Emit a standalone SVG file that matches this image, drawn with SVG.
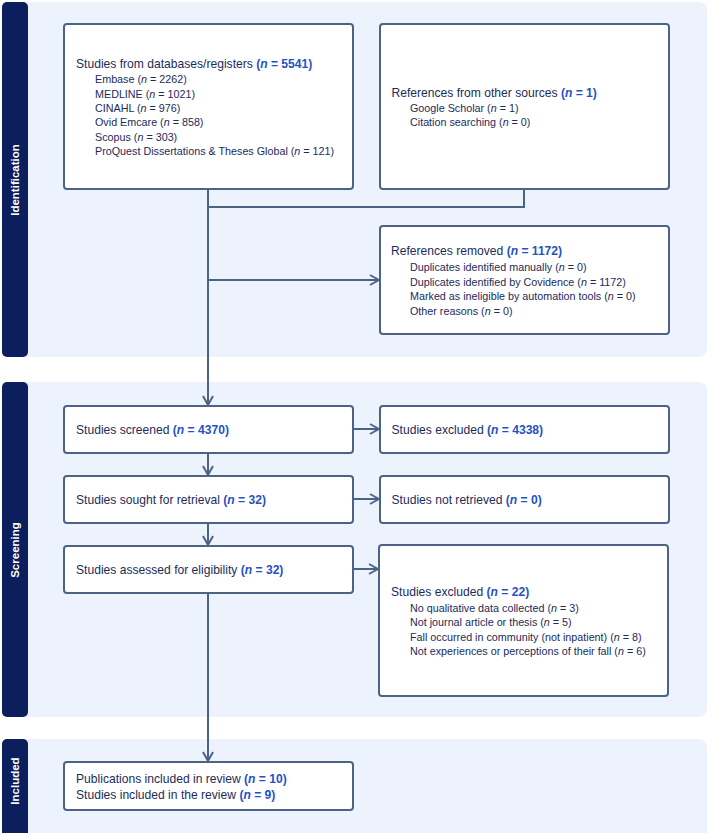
<svg xmlns="http://www.w3.org/2000/svg" width="709" height="833" viewBox="0 0 709 833">
<style>
.band{fill:#edf3fc}
.side{fill:#0b1f5e}
.lbl{font-family:"Liberation Sans",Arial,sans-serif;font-weight:bold;font-size:11.5px;fill:#ffffff;text-anchor:middle}
.box{fill:#ffffff;stroke:#4d6386;stroke-width:2}
.t{font-family:"Liberation Sans",Arial,sans-serif;font-size:12.1px;fill:#1c2b5a}
.s{font-family:"Liberation Sans",Arial,sans-serif;font-size:10.75px;fill:#1c2b5a}
.n{font-weight:bold;fill:#2452c4}
.c{fill:none;stroke:#4d6386;stroke-width:2}
</style>
<defs>
<marker id="ah" viewBox="0 0 12 12" refX="11" refY="6" markerWidth="12" markerHeight="12" markerUnits="userSpaceOnUse" orient="auto">
<path d="M2,1 L11,6 L2,11" fill="none" stroke="#4d6386" stroke-width="2"/>
</marker>
</defs>
<g id="bands">
<rect class="band" x="20" y="2" width="687" height="355" rx="8"/>
<rect class="side" x="2" y="2" width="26" height="355" rx="5"/>
<rect class="band" x="20" y="382" width="687" height="335" rx="8"/>
<rect class="side" x="2" y="382" width="26" height="335" rx="5"/>
<rect class="band" x="20" y="739" width="687" height="100" rx="8"/>
<rect class="side" x="2" y="739" width="26" height="100" rx="5"/>
<text class="lbl" transform="translate(19,180) rotate(-90)">Identification</text>
<text class="lbl" transform="translate(19,550) rotate(-90)">Screening</text>
<text class="lbl" transform="translate(19,781) rotate(-90)">Included</text>
</g>
<g id="connectors">
<polyline class="c" points="208,189 208,207 524,207 524,189"/>
<line class="c" x1="208" y1="207" x2="208" y2="405" marker-end="url(#ah)"/>
<line class="c" x1="208" y1="280" x2="379" y2="280" marker-end="url(#ah)"/>
<line class="c" x1="353" y1="429" x2="379" y2="429" marker-end="url(#ah)"/>
<line class="c" x1="208" y1="453" x2="208" y2="475" marker-end="url(#ah)"/>
<line class="c" x1="353" y1="499" x2="379" y2="499" marker-end="url(#ah)"/>
<line class="c" x1="208" y1="523" x2="208" y2="545" marker-end="url(#ah)"/>
<line class="c" x1="353" y1="569" x2="378" y2="569" marker-end="url(#ah)"/>
<line class="c" x1="208" y1="593" x2="208" y2="761" marker-end="url(#ah)"/>
</g>
<g id="databases">
<rect class="box" x="64" y="24" width="289" height="165" rx="3"/>
<text class="t" x="76" y="67.5">Studies from databases/registers <tspan class="n">(<tspan font-style="italic">n</tspan> = 5541)</tspan></text>
<text class="s" x="95" y="83">Embase (<tspan font-style="italic">n</tspan> = 2262)</text>
<text class="s" x="95" y="97.5">MEDLINE (<tspan font-style="italic">n</tspan> = 1021)</text>
<text class="s" x="95" y="112">CINAHL (<tspan font-style="italic">n</tspan> = 976)</text>
<text class="s" x="95" y="126.3">Ovid Emcare (<tspan font-style="italic">n</tspan> = 858)</text>
<text class="s" x="95" y="140.7">Scopus (<tspan font-style="italic">n</tspan> = 303)</text>
<text class="s" x="95" y="155">ProQuest Dissertations &amp; Theses Global (<tspan font-style="italic">n</tspan> = 121)</text>
</g>
<g id="other">
<rect class="box" x="380" y="24" width="289" height="165" rx="3"/>
<text class="t" x="391.5" y="97">References from other sources <tspan class="n">(<tspan font-style="italic">n</tspan> = 1)</tspan></text>
<text class="s" x="410" y="112.3">Google Scholar (<tspan font-style="italic">n</tspan> = 1)</text>
<text class="s" x="410" y="126.3">Citation searching (<tspan font-style="italic">n</tspan> = 0)</text>
</g>
<g id="removed">
<rect class="box" x="380" y="226" width="289" height="108" rx="3"/>
<text class="t" x="391" y="255">References removed <tspan class="n">(<tspan font-style="italic">n</tspan> = 1172)</tspan></text>
<text class="s" x="410" y="271">Duplicates identified manually (<tspan font-style="italic">n</tspan> = 0)</text>
<text class="s" x="410" y="285.5">Duplicates identified by Covidence (<tspan font-style="italic">n</tspan> = 1172)</text>
<text class="s" x="410" y="300">Marked as ineligible by automation tools (<tspan font-style="italic">n</tspan> = 0)</text>
<text class="s" x="410" y="314.5">Other reasons (<tspan font-style="italic">n</tspan> = 0)</text>
</g>
<g id="screened">
<rect class="box" x="64" y="406" width="289" height="47" rx="3"/>
<text class="t" x="76" y="434">Studies screened <tspan class="n">(<tspan font-style="italic">n</tspan> = 4370)</tspan></text>
</g>
<g id="excluded1">
<rect class="box" x="380" y="406" width="289" height="47" rx="3"/>
<text class="t" x="391.5" y="434">Studies excluded <tspan class="n">(<tspan font-style="italic">n</tspan> = 4338)</tspan></text>
</g>
<g id="sought">
<rect class="box" x="64" y="476" width="289" height="47" rx="3"/>
<text class="t" x="76" y="503.5">Studies sought for retrieval <tspan class="n">(<tspan font-style="italic">n</tspan> = 32)</tspan></text>
</g>
<g id="notretrieved">
<rect class="box" x="380" y="476" width="289" height="47" rx="3"/>
<text class="t" x="391.5" y="503.5">Studies not retrieved <tspan class="n">(<tspan font-style="italic">n</tspan> = 0)</tspan></text>
</g>
<g id="assessed">
<rect class="box" x="64" y="546" width="289" height="47" rx="3"/>
<text class="t" x="76" y="574">Studies assessed for eligibility <tspan class="n">(<tspan font-style="italic">n</tspan> = 32)</tspan></text>
</g>
<g id="excluded2">
<rect class="box" x="379" y="545" width="289" height="151" rx="3"/>
<text class="t" x="391" y="596">Studies excluded <tspan class="n">(<tspan font-style="italic">n</tspan> = 22)</tspan></text>
<text class="s" x="410" y="612">No qualitative data collected (<tspan font-style="italic">n</tspan> = 3)</text>
<text class="s" x="410" y="626.3">Not journal article or thesis (<tspan font-style="italic">n</tspan> = 5)</text>
<text class="s" x="410" y="641">Fall occurred in community (not inpatient) (<tspan font-style="italic">n</tspan> = 8)</text>
<text class="s" x="410" y="655">Not experiences or perceptions of their fall (<tspan font-style="italic">n</tspan> = 6)</text>
</g>
<g id="included">
<rect class="box" x="64" y="762" width="289" height="48" rx="3"/>
<text class="t" x="76" y="783">Publications included in review <tspan class="n">(<tspan font-style="italic">n</tspan> = 10)</tspan></text>
<text class="t" x="76" y="799">Studies included in the review <tspan class="n">(<tspan font-style="italic">n</tspan> = 9)</tspan></text>
</g>
</svg>
